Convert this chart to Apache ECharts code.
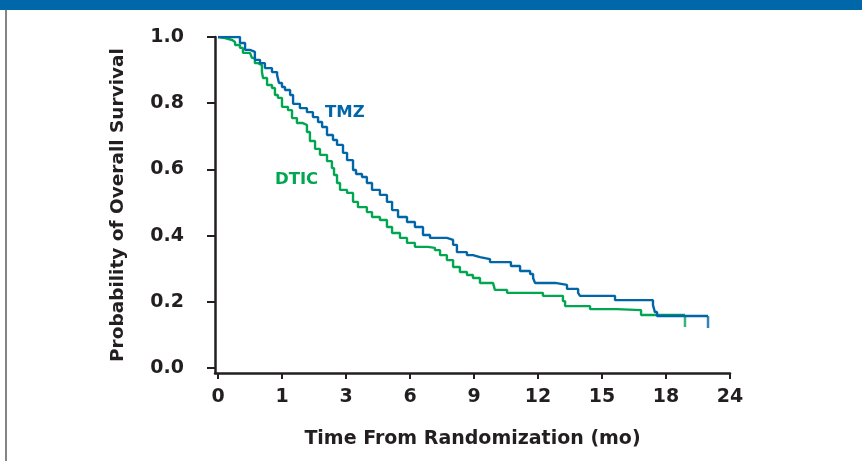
<!DOCTYPE html>
<html>
<head>
<meta charset="utf-8">
<script src="https://cdn.jsdelivr.net/npm/echarts@6/dist/echarts.min.js"></script>
<style>
  html, body { margin: 0; padding: 0; background: #fff; }
  #chart { width: 862px; height: 461px; }
</style>
</head>
<body>
<div id="chart"></div>
<script>
// x ticks sit at 0,3,...,24 months, the labels are what the figure prints
var xTicks = [0, 3, 6, 9, 12, 15, 18, 21, 24];
var xTickLabels = ['0', '1', '3', '6', '9', '12', '15', '18', '24'];
var yTicks = [0, 0.2, 0.4, 0.6, 0.8, 1];
var yTickLabels = ['0.0', '0.2', '0.4', '0.6', '0.8', '1.0'];

// TMZ arm: [month, survival] at each step
var tmz = [
  [0, 1.000], [1.03, 0.982], [1.27, 0.961], [1.50, 0.955], [1.73, 0.931],
  [1.97, 0.921], [2.20, 0.906], [2.53, 0.894], [2.77, 0.885], [2.86, 0.861],
  [3.00, 0.849], [3.14, 0.840], [3.38, 0.825], [3.52, 0.798], [3.84, 0.785],
  [4.17, 0.773], [4.45, 0.758], [4.69, 0.743], [4.88, 0.728], [5.11, 0.704],
  [5.39, 0.689], [5.58, 0.674], [5.86, 0.650], [6.05, 0.628], [6.33, 0.598],
  [6.47, 0.586], [6.75, 0.577], [6.98, 0.559], [7.22, 0.538], [7.59, 0.523],
  [7.92, 0.502], [8.16, 0.477], [8.44, 0.456], [8.86, 0.441], [9.23, 0.426],
  [9.61, 0.402], [9.94, 0.393], [10.73, 0.387], [11.02, 0.372], [11.20, 0.350],
  [11.67, 0.341], [11.95, 0.335], [12.28, 0.329], [12.75, 0.320], [13.73, 0.308],
  [14.16, 0.293], [14.63, 0.284], [14.77, 0.272], [14.86, 0.257], [15.80, 0.251],
  [16.36, 0.239], [16.88, 0.227], [16.97, 0.218], [18.61, 0.205], [20.39, 0.190],
  [20.48, 0.169], [20.58, 0.157], [22.97, 0.157]
];

// DTIC arm
var dtic = [
  [0, 1.000], [0.09, 0.997], [0.33, 0.991], [0.66, 0.985], [0.80, 0.976],
  [1.03, 0.967], [1.17, 0.952], [1.50, 0.946], [1.59, 0.937], [1.73, 0.921],
  [1.88, 0.915], [2.06, 0.894], [2.11, 0.876], [2.30, 0.855], [2.53, 0.846],
  [2.67, 0.825], [2.81, 0.816], [3.00, 0.789], [3.28, 0.779], [3.47, 0.755],
  [3.70, 0.740], [3.98, 0.734], [4.17, 0.713], [4.31, 0.686], [4.55, 0.662],
  [4.78, 0.644], [5.11, 0.625], [5.34, 0.604], [5.44, 0.583], [5.58, 0.559],
  [5.72, 0.538], [6.05, 0.529], [6.33, 0.502], [6.56, 0.486], [6.98, 0.471],
  [7.22, 0.456], [7.59, 0.447], [7.92, 0.426], [8.16, 0.408], [8.53, 0.393],
  [8.86, 0.378], [9.23, 0.366], [9.84, 0.363], [10.17, 0.356], [10.41, 0.341],
  [10.73, 0.326], [11.02, 0.305], [11.34, 0.290], [11.67, 0.281], [11.95, 0.272],
  [12.28, 0.257], [12.89, 0.251], [12.98, 0.236], [13.55, 0.227], [15.23, 0.218],
  [16.17, 0.202], [16.27, 0.187], [17.44, 0.178], [18.70, 0.175], [19.83, 0.160],
  [21.89, 0.160]
];

var BLUE = '#0066a8';
var GREEN = '#00a650';
var INK = '#231f20';
var FONT = '"DejaVu Sans", Arial, sans-serif';

var chart = echarts.init(document.getElementById('chart'));

chart.setOption({
  animation: false,
  backgroundColor: '#fff',
  textStyle: { fontFamily: FONT },
  grid: { left: 215, right: 132, top: 37, bottom: 88 },
  xAxis: {
    type: 'value',
    min: -0.14,
    max: 24,
    splitLine: { show: false },
    axisLine: { onZero: false, lineStyle: { color: INK, width: 2.5 } },
    axisTick: { customValues: xTicks, length: 6, lineStyle: { color: INK, width: 2 } },
    axisLabel: {
      customValues: xTicks,
      margin: 15,
      color: INK,
      fontSize: 19,
      fontWeight: 'bold',
      fontFamily: FONT,
      formatter: function (v) { return xTickLabels[xTicks.indexOf(v)]; }
    },
    name: 'Time From Randomization (mo)',
    nameLocation: 'middle',
    nameGap: 57,
    nameTextStyle: { color: INK, fontSize: 19, fontWeight: 'bold', fontFamily: FONT }
  },
  yAxis: {
    type: 'value',
    min: -0.0151,
    max: 1,
    splitLine: { show: false },
    axisLine: { onZero: false, lineStyle: { color: INK, width: 2.5 } },
    axisTick: { customValues: yTicks, length: 8, lineStyle: { color: INK, width: 2 } },
    axisLabel: {
      customValues: yTicks,
      margin: 31,
      color: INK,
      fontSize: 19,
      fontWeight: 'bold',
      fontFamily: FONT,
      formatter: function (v) { return yTickLabels[yTicks.indexOf(v)]; }
    },
    name: 'Probability of Overall Survival',
    nameLocation: 'middle',
    nameGap: 87,
    nameTextStyle: { color: INK, fontSize: 18.5, fontWeight: 'bold', fontFamily: FONT }
  },
  series: [
    {
      name: 'DTIC', type: 'line', step: 'end', data: dtic, symbol: 'none',
      lineStyle: { color: GREEN, width: 2.4 }, z: 2
    },
    {
      name: 'TMZ', type: 'line', step: 'end', data: tmz, symbol: 'none',
      lineStyle: { color: BLUE, width: 2.4 }, z: 3
    },
    // censor ticks at the end of each curve
    {
      type: 'scatter', data: [dtic[dtic.length - 1]], symbol: 'rect',
      symbolSize: [2.5, 12], symbolOffset: [0, 6], itemStyle: { color: GREEN }, z: 2
    },
    {
      type: 'scatter', data: [tmz[tmz.length - 1]], symbol: 'rect',
      symbolSize: [2.5, 12], symbolOffset: [0, 6], itemStyle: { color: BLUE }, z: 3
    }
  ],
  graphic: [
    { type: 'rect', left: 0, top: 0, shape: { width: 862, height: 10 }, style: { fill: '#0067a8' } },
    { type: 'rect', left: 5, top: 10, shape: { width: 2, height: 451 }, style: { fill: '#858585' } },
    {
      type: 'text', left: 325, top: 104,
      style: { text: 'TMZ', fill: BLUE, font: 'bold 16.5px ' + FONT }
    },
    {
      type: 'text', left: 275, top: 171,
      style: { text: 'DTIC', fill: GREEN, font: 'bold 16.5px ' + FONT }
    }
  ]
});
</script>
</body>
</html>
